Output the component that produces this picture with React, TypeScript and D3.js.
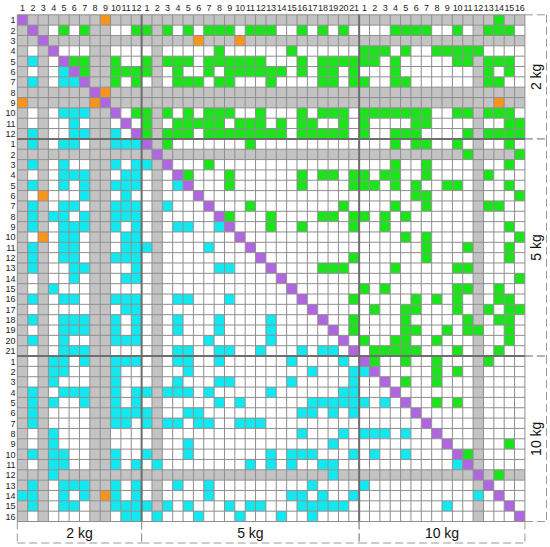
import React from 'react';
import * as d3 from 'd3';

// ---------- data ----------
const groupNames = ['2 kg', '5 kg', '10 kg'];
const groupSizes = [12, 21, 16];
// rows / columns with no data (drawn grey), local 1-based index per group
const missing2kg = [1, 3, 8, 9];
const missing5kg = [2];
const missing10kg = [12];

// upper-triangle links: [row (local), [cols (local)]]
const links2kg2kg: [number, number[]][] = [
  [2, [5, 7, 12]],
  [5, [6, 7, 10]],
  [6, [7, 10, 11, 12]],
  [7, [10, 12]],
  [10, [12]],
];
const links2kg5kg: [number, number[]][] = [
  [2, [1, 3, 5, 7, 8, 9, 11, 12, 13, 16, 18, 20]],
  [4, [8, 15]],
  [5, [1, 3, 4, 5, 7, 8, 9, 10, 11, 12, 16, 18, 19, 20, 21]],
  [6, [1, 4, 7, 9, 10, 11, 12, 13, 14, 16, 18, 19, 21]],
  [7, [4, 5, 6, 8, 9, 13, 18, 19, 21]],
  [10, [1, 3, 5, 7, 8, 9, 12, 16, 18, 19, 20]],
  [11, [1, 4, 5, 6, 7, 8, 10, 11, 12, 14, 16, 17, 20]],
  [12, [1, 3, 4, 5, 7, 8, 9, 10, 11, 12, 13, 14, 16, 17, 18, 19, 20]],
];
const links2kg10kg: [number, number[]][] = [
  [1, [14]],
  [2, [4, 5, 6, 7, 10, 13, 14, 15]],
  [4, [1, 2, 3, 5, 8, 9, 10, 11, 12]],
  [5, [1, 2, 4, 10, 11, 13, 14, 15]],
  [6, [4, 13, 15]],
  [7, [1, 4, 5, 13, 14]],
  [10, [1, 2, 3, 4, 5, 6, 7, 10, 11, 13, 14, 15]],
  [11, [1, 6, 7, 15, 16]],
  [12, [1, 4, 5, 6, 11, 13, 14, 15, 16]],
];
const links5kg5kg: [number, number[]][] = [
  [1, [3, 11]],
  [3, [7]],
  [4, [5, 9, 16, 18, 19, 21]],
  [5, [9, 16, 21]],
  [7, [11, 20]],
  [8, [9, 13, 18, 19, 21]],
  [9, [13, 16, 21]],
  [12, [21]],
  [13, [18, 19, 20]],
  [16, [21]],
  [18, [21]],
  [19, [21]],
];
const links5kg10kg: [number, number[]][] = [
  [1, [4, 6, 7, 10, 15]],
  [2, [11, 16]],
  [3, [4, 7, 15]],
  [4, [1, 3, 4, 7, 13]],
  [5, [1, 2, 4, 6, 9, 10, 15]],
  [6, [6, 7, 16]],
  [7, [4, 7, 13, 14]],
  [8, [1, 3, 5]],
  [9, [3, 15]],
  [10, [5, 7, 16]],
  [11, [7, 11, 15]],
  [12, [7, 15]],
  [13, [4, 10, 11]],
  [14, [16]],
  [15, [1, 3, 10, 11, 14]],
  [16, [6, 8, 10, 14, 15]],
  [17, [2, 5, 6, 10, 13, 15, 16]],
  [18, [5, 11, 14, 15]],
  [19, [5, 6, 9, 11, 12, 15]],
  [20, [1, 4, 5, 8, 15]],
  [21, [2, 3, 4, 5, 6, 10, 14]],
];
const links10kg10kg: [number, number[]][] = [
  [1, [2, 5, 8, 13]],
  [2, [8, 10]],
  [3, [5, 8]],
  [5, [8, 10]],
  [9, [15]],
  [10, [11]],
  [12, [14]],
];
// special pairs (orange): [groupA, idxA, groupB, idxB]
const orangePairs: [number, number, number, number][] = [
  [0, 1, 0, 9],
  [0, 8, 0, 9],
  [0, 3, 1, 6],
  [0, 3, 1, 10],
  [0, 9, 2, 14],
];

// ---------- style ----------
const C_PURPLE = '#b066e0';
const C_GREEN = '#1be41b';
const C_CYAN = '#12e8f0';
const C_ORANGE = '#f7941d';
const C_GREY = '#c3c3c3';
const C_WHITE = '#ffffff';
const C_GRID = '#8e8e8e';
const C_SEP = '#6e6e6e';
const FONT = '"Liberation Sans", Arial, sans-serif';

const X0 = 17.3;
const Y0 = 14.8;
const W = 507.6;
const H = 506.7;

export default function App() {
  const total = d3.sum(groupSizes);
  const offsets = [0, groupSizes[0], groupSizes[0] + groupSizes[1]];
  const gi = (g: number, i: number) => offsets[g] + i - 1;

  const idx = d3.range(total);
  const xs = d3.scaleBand<number>().domain(idx).range([X0, X0 + W]);
  const ys = d3.scaleBand<number>().domain(idx).range([Y0, Y0 + H]);
  const bw = xs.bandwidth();
  const bh = ys.bandwidth();

  const missing = new Set<number>([
    ...missing2kg.map((i) => gi(0, i)),
    ...missing5kg.map((i) => gi(1, i)),
    ...missing10kg.map((i) => gi(2, i)),
  ]);

  const linkSet = new Set<string>();
  const addBlock = (ga: number, gb: number, rows: [number, number[]][]) => {
    rows.forEach(([r, cs]) =>
      cs.forEach((c) => {
        const a = gi(ga, r);
        const b = gi(gb, c);
        linkSet.add(`${a},${b}`);
        linkSet.add(`${b},${a}`);
      })
    );
  };
  addBlock(0, 0, links2kg2kg);
  addBlock(0, 1, links2kg5kg);
  addBlock(0, 2, links2kg10kg);
  addBlock(1, 1, links5kg5kg);
  addBlock(1, 2, links5kg10kg);
  addBlock(2, 2, links10kg10kg);

  const orangeSet = new Set<string>();
  orangePairs.forEach(([g1, i1, g2, i2]) => {
    const a = gi(g1, i1);
    const b = gi(g2, i2);
    orangeSet.add(`${a},${b}`);
    orangeSet.add(`${b},${a}`);
  });

  const cellColor = (r: number, c: number) => {
    if (r === c) return C_PURPLE;
    const k = `${r},${c}`;
    if (orangeSet.has(k)) return C_ORANGE;
    if (linkSet.has(k)) return r < c ? C_GREEN : C_CYAN;
    if (missing.has(r) || missing.has(c)) return C_GREY;
    return C_WHITE;
  };

  const cells: { r: number; c: number; fill: string }[] = [];
  idx.forEach((r) => idx.forEach((c) => cells.push({ r, c, fill: cellColor(r, c) })));

  const labels: { k: number; text: string }[] = [];
  groupSizes.forEach((n, g) =>
    d3.range(1, n + 1).forEach((i) => labels.push({ k: gi(g, i), text: String(i) }))
  );

  const sepIdx = [offsets[1], offsets[2]];
  const edge = (k: number) => (k >= total ? X0 + W : (xs(k) as number));
  const edgeY = (k: number) => (k >= total ? Y0 + H : (ys(k) as number));

  const groupBounds = groupSizes.map((n, g) => [offsets[g], offsets[g] + n]);
  const bracketY = 543;
  const bracketX = 546.5;

  return (
    <svg
      width={550}
      height={547}
      style={{ position: 'absolute', left: 0, top: 0, background: '#fff' }}
    >
      <rect x={0} y={0} width={550} height={547} fill="#fff" />
      {cells.map((d) => (
        <rect
          key={`${d.r}-${d.c}`}
          x={xs(d.c)}
          y={ys(d.r)}
          width={bw}
          height={bh}
          fill={d.fill}
        />
      ))}
      {/* grid lines */}
      {d3.range(total + 1).map((k) => (
        <line
          key={`v${k}`}
          x1={edge(k)}
          x2={edge(k)}
          y1={Y0}
          y2={Y0 + H}
          stroke={C_GRID}
          strokeWidth={1}
        />
      ))}
      {d3.range(total + 1).map((k) => (
        <line
          key={`h${k}`}
          y1={edgeY(k)}
          y2={edgeY(k)}
          x1={X0}
          x2={X0 + W}
          stroke={C_GRID}
          strokeWidth={1}
        />
      ))}
      {sepIdx.map((k) => (
        <g key={`s${k}`}>
          <line x1={edge(k)} x2={edge(k)} y1={Y0} y2={Y0 + H} stroke={C_SEP} strokeWidth={2} />
          <line y1={edgeY(k)} y2={edgeY(k)} x1={X0} x2={X0 + W} stroke={C_SEP} strokeWidth={2} />
        </g>
      ))}
      {/* top labels */}
      {labels.map((d) => (
        <text
          key={`t${d.k}`}
          x={(xs(d.k) as number) + bw / 2}
          y={10.5}
          textAnchor="middle"
          fontSize={9}
          letterSpacing={-0.2}
          fontFamily={FONT}
          fill="#222"
        >
          {d.text}
        </text>
      ))}
      {/* left labels */}
      {labels.map((d) => (
        <text
          key={`l${d.k}`}
          x={15.5}
          y={(ys(d.k) as number) + bh / 2 + 3.3}
          textAnchor="end"
          fontSize={9}
          fontFamily={FONT}
          fill="#222"
        >
          {d.text}
        </text>
      ))}
      {/* bottom bracket */}
      {groupBounds.map(([a, b], g) => (
        <g key={`bb${g}`}>
          <line
            x1={edge(a)}
            x2={edge(a)}
            y1={Y0 + H}
            y2={bracketY}
            stroke="#999"
            strokeWidth={1}
            strokeDasharray="8,4"
          />
          <line
            x1={edge(b)}
            x2={edge(b)}
            y1={Y0 + H}
            y2={bracketY}
            stroke="#999"
            strokeWidth={1}
            strokeDasharray="8,4"
          />
          <line
            x1={edge(a)}
            x2={edge(b)}
            y1={bracketY}
            y2={bracketY}
            stroke="#999"
            strokeWidth={1}
            strokeDasharray="8,4"
          />
          <text
            x={(edge(a) + edge(b)) / 2}
            y={538}
            textAnchor="middle"
            fontSize={14}
            fontFamily={FONT}
            fill="#111"
          >
            {groupNames[g]}
          </text>
        </g>
      ))}
      {/* right bracket */}
      {groupBounds.map(([a, b], g) => (
        <g key={`rb${g}`}>
          <line
            x1={X0 + W}
            x2={bracketX}
            y1={edgeY(a)}
            y2={edgeY(a)}
            stroke="#999"
            strokeWidth={1}
            strokeDasharray="8,4"
          />
          <line
            x1={X0 + W}
            x2={bracketX}
            y1={edgeY(b)}
            y2={edgeY(b)}
            stroke="#999"
            strokeWidth={1}
            strokeDasharray="8,4"
          />
          <line
            x1={bracketX}
            x2={bracketX}
            y1={edgeY(a)}
            y2={edgeY(b)}
            stroke="#999"
            strokeWidth={1}
            strokeDasharray="8,4"
          />
          <text
            transform={`translate(${541}, ${(edgeY(a) + edgeY(b)) / 2}) rotate(-90)`}
            textAnchor="middle"
            fontSize={14}
            fontFamily={FONT}
            fill="#111"
          >
            {groupNames[g]}
          </text>
        </g>
      ))}
    </svg>
  );
}
